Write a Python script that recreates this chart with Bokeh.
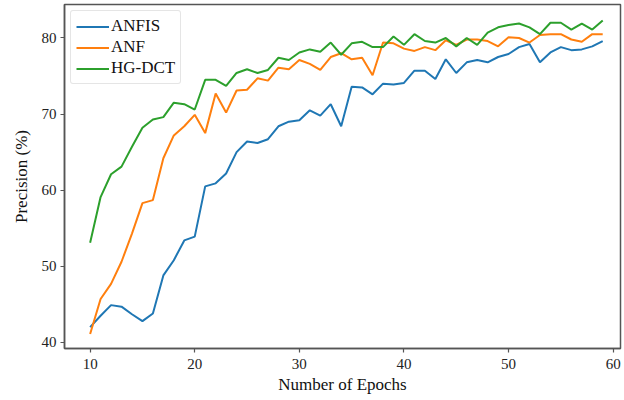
from bokeh.plotting import figure
from bokeh.models import Range1d, Legend, LegendItem, FixedTicker
from bokeh.embed import file_html
from bokeh.resources import INLINE

epochs = list(range(10, 60))
anfis = [42.0, 43.5, 44.9, 44.7, 43.7, 42.8, 43.8, 48.8, 50.8, 53.4,
         53.9, 60.5, 60.9, 62.2, 65.0, 66.4, 66.2, 66.7, 68.4, 69.0,
         69.2, 70.5, 69.8, 71.3, 68.4, 73.6, 73.5, 72.6, 74.0, 73.9,
         74.1, 75.7, 75.7, 74.6, 77.2, 75.4, 76.8, 77.1, 76.8, 77.5,
         77.9, 78.8, 79.2, 76.8, 78.1, 78.8, 78.4, 78.5, 78.9, 79.6]
anf = [41.1, 45.7, 47.7, 50.6, 54.3, 58.3, 58.7, 64.2, 67.2, 68.4,
       69.9, 67.5, 72.7, 70.2, 73.1, 73.2, 74.7, 74.4, 76.1, 75.9,
       77.1, 76.6, 75.8, 77.5, 78.0, 77.2, 77.4, 75.1, 79.4, 79.3,
       78.6, 78.3, 78.8, 78.4, 79.7, 79.1, 79.8, 79.8, 79.6, 78.9,
       80.1, 80.0, 79.4, 80.4, 80.5, 80.5, 79.8, 79.5, 80.5, 80.5]
hgdct = [53.1, 59.1, 62.1, 63.1, 65.7, 68.2, 69.3, 69.6, 71.5, 71.3,
         70.6, 74.5, 74.5, 73.7, 75.4, 75.9, 75.4, 75.8, 77.4, 77.1,
         78.1, 78.5, 78.2, 79.4, 77.8, 79.3, 79.5, 78.8, 78.8, 80.2,
         79.1, 80.5, 79.6, 79.4, 80.0, 78.9, 80.0, 79.1, 80.7, 81.4,
         81.7, 81.9, 81.4, 80.5, 82.0, 82.0, 81.1, 81.9, 81.1, 82.3]
x_ticks = [10, 20, 30, 40, 50, 60]
y_ticks = [40, 50, 60, 70, 80]

FONT = "Liberation Serif"
SPINE = "#555555"

p = figure(width=624, height=400, output_backend="svg", toolbar_location=None,
           x_range=Range1d(7.55, 60.7), y_range=Range1d(39.2, 84.4),
           min_border_left=64, min_border_right=4, min_border_top=4, min_border_bottom=52)
p.background_fill_color = "white"
p.border_fill_color = "white"
p.outline_line_color = SPINE
p.outline_line_width = 1.5
p.xgrid.visible = False
p.ygrid.visible = False

r1 = p.line(epochs, anfis, line_color="#1f77b4", line_width=2)
r2 = p.line(epochs, anf, line_color="#ff7f0e", line_width=2)
r3 = p.line(epochs, hgdct, line_color="#2ca02c", line_width=2)

for ax in (p.xaxis[0], p.yaxis[0]):
    ax.axis_line_color = SPINE
    ax.axis_line_width = 1.5
    ax.major_tick_line_color = SPINE
    ax.major_tick_line_width = 1.2
    ax.major_tick_out = 4
    ax.major_tick_in = 0
    ax.minor_tick_line_color = None
    ax.major_label_text_font = FONT
    ax.major_label_text_font_size = "15px"
    ax.major_label_text_color = "#222222"
    ax.axis_label_text_font = FONT
    ax.axis_label_text_font_size = "17px"
    ax.axis_label_text_font_style = "normal"
    ax.axis_label_text_color = "#111111"

p.xaxis[0].ticker = FixedTicker(ticks=x_ticks)
p.yaxis[0].ticker = FixedTicker(ticks=y_ticks)
p.xaxis[0].axis_label = "Number of Epochs"
p.yaxis[0].axis_label = "Precision (%)"
p.xaxis[0].axis_label_standoff = 3
p.yaxis[0].axis_label_standoff = 8
p.xaxis[0].major_label_standoff = 6
p.yaxis[0].major_label_standoff = 4

legend = Legend(items=[LegendItem(label="ANFIS", renderers=[r1]),
                       LegendItem(label="ANF", renderers=[r2]),
                       LegendItem(label="HG-DCT", renderers=[r3])],
                location="top_left")
legend.label_text_font = FONT
legend.label_text_font_size = "17px"
legend.label_text_color = "#111111"
legend.glyph_width = 33
legend.glyph_height = 19
legend.label_height = 19
legend.spacing = 1
legend.padding = 5
legend.margin = 6
legend.label_standoff = 2
legend.border_line_color = "#cccccc"
legend.border_line_width = 1
legend.border_radius = 3
legend.background_fill_alpha = 0.9
p.add_layout(legend)

open("out.html", "w").write(file_html(p, INLINE))
